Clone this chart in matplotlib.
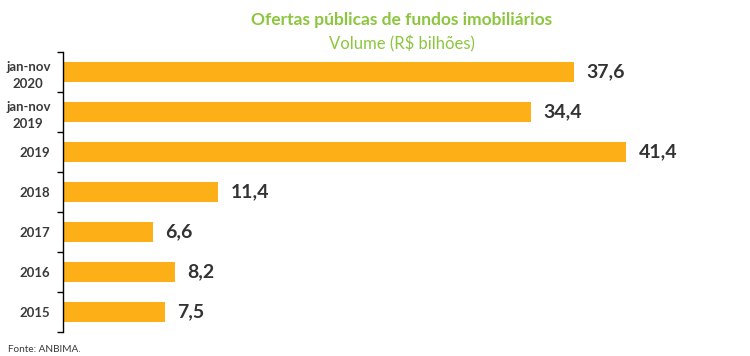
import matplotlib
matplotlib.use("Agg")
import matplotlib.pyplot as plt

categories = ["jan-nov\n2020", "jan-nov\n2019", "2019", "2018", "2017", "2016", "2015"]
values = [37.6, 34.4, 41.4, 11.4, 6.6, 8.2, 7.5]
value_labels = ["37,6", "34,4", "41,4", "11,4", "6,6", "8,2", "7,5"]

plt.rcParams['font.family'] = ['Lato', 'DejaVu Sans']
fig = plt.figure(figsize=(7.5, 3.56), dpi=100)
ax = fig.add_axes([0.084, 0.0674, 0.866, 0.7866])

n = len(categories)
ypos = list(range(n))
ax.barh(ypos, values, height=0.5, color="#FDAF17")
ax.set_ylim(n - 0.5, -0.5)
ax.set_xlim(0, 47.76)

for y, v, lab in zip(ypos, values, value_labels):
    ax.annotate(lab, (v, y), xytext=(9, 0), textcoords="offset points",
                ha="left", va="center", fontsize=14, fontweight="bold", color="#333333")

ax.set_yticks([i - 0.5 for i in range(n + 1)])
ax.set_yticklabels([])
ax.set_yticks(ypos, minor=True)
ax.set_yticklabels(categories, minor=True, fontsize=9.5, fontweight="bold", color="#3A3A3A",
                   multialignment="center", linespacing=1.55)
ax.tick_params(axis="y", which="major", length=4, width=1, direction="out")
ax.tick_params(axis="y", which="minor", length=0, pad=9)
ax.set_xticks([])
for s in ["top", "right", "bottom"]:
    ax.spines[s].set_visible(False)
ax.spines["left"].set_linewidth(1)

fig.text(0.536, 0.945, "Ofertas públicas de fundos imobiliários", ha="center", va="center",
         fontsize=12.5, fontweight="bold", color="#8CC63F")
fig.text(0.536, 0.878, "Volume (R$ bilhões)", ha="center", va="center",
         fontsize=12, color="#8CC63F")
fig.text(0.011, 0.017, "Fonte: ANBIMA.", ha="left", va="center", fontsize=7.2, color="#3A3A3A")

fig.savefig("out.png", dpi=100)
